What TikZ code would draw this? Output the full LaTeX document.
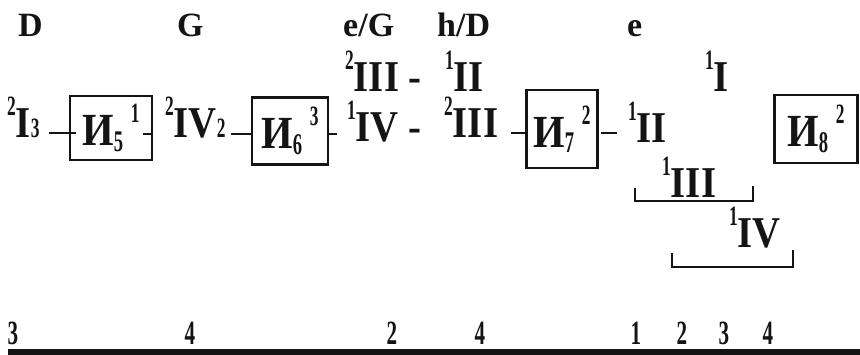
\documentclass[tikz,border=0pt]{standalone}
\usepackage{fontspec}
\setmainfont{Liberation Serif}
\newfontfamily\degfont[FakeStretch=0.88]{Liberation Serif}
\newfontfamily\narrowfont[FakeStretch=0.62]{Liberation Serif}
\usetikzlibrary{calc}
\definecolor{ink}{HTML}{141414}
\newcommand{\up}[1]{\raisebox{0.5em}{\narrowfont\bfseries\fontsize{28}{28}\selectfont #1}}
\newcommand{\dn}[1]{{\narrowfont\bfseries\fontsize{28}{28}\selectfont #1}}
\newcommand{\lo}[1]{\raisebox{-0.12em}{\narrowfont\bfseries\fontsize{30}{30}\selectfont #1}}
\tikzset{
  keytxt/.style={anchor=base west,inner sep=0pt,text=ink,font=\bfseries\fontsize{34}{34}\selectfont},
  degtxt/.style={anchor=base west,inner sep=0pt,text=ink,font=\degfont\bfseries\fontsize{44}{44}\selectfont},
  numtxt/.style={anchor=base,inner sep=0pt,text=ink,font=\narrowfont\bfseries\fontsize{34}{34}\selectfont},
  funcbox/.style={draw=ink,line width=2.8pt,inner sep=0pt,text=ink,font=\degfont\bfseries\fontsize{46}{46}\selectfont},
  tie/.style={draw=ink,line width=1.8pt},
  brace/.style={draw=ink,line width=2.4pt}
}

\begin{document}
\begin{tikzpicture}[x=1pt,y=-1pt]
  \useasboundingbox (0,0) rectangle (860,355);
  % keys
  \node[keytxt] (kD) at (18,37) {D};
  \node[keytxt] (kG) at (177,37) {G};
  \node[keytxt] (keG) at (343,37) {e/G};
  \node[keytxt] (khD) at (437,37) {h/D};
  \node[keytxt] (ke) at (627,37) {e};

  % upper degrees
  \node[degtxt] (u1) at (345,92) {\up{2}III -};
  \node[degtxt] (u2) at (445,92) {\up{1}II};
  \node[degtxt] (u3) at (705,92) {\up{1}I};

  % main line
  \node[degtxt] (d1) at (7,138) {\up{2}I\dn{3}};
  \node[funcbox,minimum width=82pt,minimum height=64pt] (f5) at (111,128) {И\lo{5}\,\up{1}};
  \node[degtxt] (d2) at (165,138) {\up{2}IV\dn{2}};
  \node[funcbox,minimum width=76pt,minimum height=67pt] (f6) at (290,131) {И\lo{6}\,\up{3}};
  \node[degtxt] (d3) at (347,142) {\up{1}IV -};
  \node[degtxt] (d4) at (444,138) {\up{2}III};
  \node[funcbox,minimum width=71pt,minimum height=78pt] (f7) at (562,129) {И\lo{7}\,\up{2}};
  \node[degtxt] (d5) at (628,143) {\up{1}II};
  \node[funcbox,minimum width=83pt,minimum height=68pt] (f8) at (816,129) {И\lo{8}\,\up{2}};

  \draw[tie] ($(d1.base east)+(9,-5)$) -- ($(f5.west |- d1.base)+(7,-5)$);
  \draw[tie] ($(f5.east |- d1.base)+(-10,-4)$) -- ($(f5.east |- d1.base)+(0,-4)$);
  \draw[tie] ($(d2.base east)+(5,-4)$) -- ($(f6.west |- d2.base)+(1,-4)$);
  \draw[tie] ($(f6.east |- d2.base)+(0,-4)$) -- ($(d3.base west)+(-10,-8)$);
  \draw[tie] ($(d4.base east)+(13,-5)$) -- ($(f7.west |- d4.base)+(0,-5)$);
  \draw[tie] ($(f7.east |- d4.base)+(2,-5)$) -- ($(d5.base west)+(-11,-10)$);

  % pivot chords
  \node[degtxt] (p1) at (662,198) {\up{1}III};
  \node[degtxt] (p2) at (729,248) {\up{1}IV};
  \draw[brace] (635,188) -- (635,201) -- (753,201) -- (753,186);
  \draw[brace] (672,253) -- (672,267) -- (793,267) -- (793,250);

  % bar counts
  \node[numtxt] (n1) at (13,345) {3};
  \node[numtxt] (n2) at (190,345) {4};
  \node[numtxt] (n3) at (392,345) {2};
  \node[numtxt] (n4) at (480,345) {4};
  \node[numtxt] (n5) at (636,345) {1};
  \node[numtxt] (n6) at (682,345) {2};
  \node[numtxt] (n7) at (724,345) {3};
  \node[numtxt] (n8) at (768,345) {4};
  \draw[ink,line width=6pt] (8,352) -- (860,352);
\end{tikzpicture}
\end{document}
